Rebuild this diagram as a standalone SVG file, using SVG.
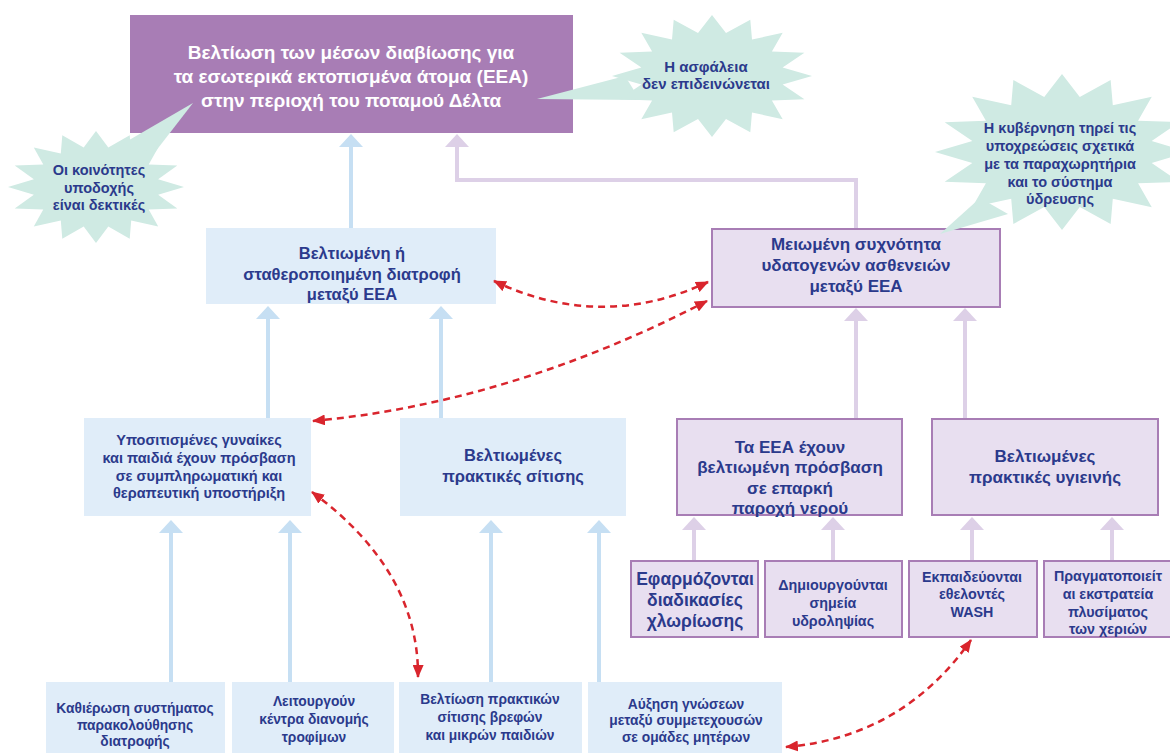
<svg xmlns="http://www.w3.org/2000/svg" width="1170" height="753" viewBox="0 0 1170 753">
<style>
text { font-family: "Liberation Sans", Arial, sans-serif; font-weight: bold; fill: #2b3a8c; text-anchor: middle; }
.top { fill: #ffffff; font-size: 19px; }
.bb { fill: #e0edf9; }
.pb { fill: #e8dff0; stroke: #a87db5; stroke-width: 2; }
.ba { stroke: #c6dff3; stroke-width: 4; fill: none; marker-end: url(#hb); }
.pa { stroke: #ddd0e7; stroke-width: 4; fill: none; marker-end: url(#hp); }
.rd { stroke: #d9252d; stroke-width: 2.5; fill: none; stroke-dasharray: 7 5; marker-start: url(#hr); marker-end: url(#hr); }
.star { fill: #cfeae3; }
.f138 { font-size: 13.8px; }
.f143 { font-size: 14.3px; }
.f145 { font-size: 14.5px; }
.f15 { font-size: 15px; }
.f165 { font-size: 16.5px; }
.f17 { font-size: 17px; }
.f175 { font-size: 17.5px; }
</style>
<defs>
<marker id="hb" markerUnits="userSpaceOnUse" viewBox="0 0 13 24" refX="0" refY="12" markerWidth="13" markerHeight="24" orient="auto"><path d="M0,0 L13,12 L0,24 z" fill="#c6dff3"/></marker>
<marker id="hp" markerUnits="userSpaceOnUse" viewBox="0 0 13 24" refX="0" refY="12" markerWidth="13" markerHeight="24" orient="auto"><path d="M0,0 L13,12 L0,24 z" fill="#ddd0e7"/></marker>
<marker id="hr" markerUnits="userSpaceOnUse" viewBox="0 0 13 11" refX="12" refY="5.5" markerWidth="13" markerHeight="11" orient="auto-start-reverse"><path d="M0,0 L13,5.5 L0,11 z" fill="#d9252d"/></marker>
<polygon id="star" points="1,0 0.706,0.14 0.924,0.383 0.599,0.4 0.707,0.707 0.4,0.599 0.383,0.924 0.14,0.706 0,1 -0.14,0.706 -0.383,0.924 -0.4,0.599 -0.707,0.707 -0.599,0.4 -0.924,0.383 -0.706,0.14 -1,0 -0.706,-0.14 -0.924,-0.383 -0.599,-0.4 -0.707,-0.707 -0.4,-0.599 -0.383,-0.924 -0.14,-0.706 0,-1 0.14,-0.706 0.383,-0.924 0.4,-0.599 0.707,-0.707 0.599,-0.4 0.924,-0.383 0.706,-0.14"/>
</defs>

<g id="connectors">
<path class="ba" d="M351,228 V147"/>
<path class="pa" d="M856,228 V180 H457 V147"/>
<path class="ba" d="M268,418 V319"/>
<path class="ba" d="M441,418 V319"/>
<path class="pa" d="M856,418 V321"/>
<path class="pa" d="M965,418 V321"/>
<path class="ba" d="M171,682 V533"/>
<path class="ba" d="M290,682 V533"/>
<path class="ba" d="M491,682 V533"/>
<path class="ba" d="M599,682 V533"/>
<path class="pa" d="M694,560 V530"/>
<path class="pa" d="M833,560 V530"/>
<path class="pa" d="M972,560 V530"/>
<path class="pa" d="M1112,560 V530"/>
</g>

<g id="n-goal">
<rect x="130" y="15" width="443" height="118" fill="#a87db5"/>
<text class="top" x="351" y="59">Βελτίωση των μέσων διαβίωσης για</text>
<text class="top" x="351" y="83">τα εσωτερικά εκτοπισμένα άτομα (ΕΕΑ)</text>
<text class="top" x="351" y="107">στην περιοχή του ποταμού Δέλτα</text>
</g>

<g id="n-nutrition">
<rect class="bb" x="206" y="228" width="290" height="76"/>
<text class="f165" x="352" y="259">Βελτιωμένη ή</text>
<text class="f165" x="352" y="280">σταθεροποιημένη διατροφή</text>
<text class="f165" x="352" y="300">μεταξύ ΕΕΑ</text>
</g>

<g id="n-disease">
<rect class="pb" x="712" y="229" width="288" height="78"/>
<text class="f17" x="856" y="250">Μειωμένη συχνότητα</text>
<text class="f17" x="856" y="271">υδατογενών ασθενειών</text>
<text class="f17" x="856" y="292">μεταξύ ΕΕΑ</text>
</g>

<g id="n-women">
<rect class="bb" x="84" y="418" width="227" height="98"/>
<text class="f145" x="199" y="445">Υποσιτισμένες γυναίκες</text>
<text class="f145" x="199" y="463">και παιδιά έχουν πρόσβαση</text>
<text class="f145" x="199" y="481">σε συμπληρωματική και</text>
<text class="f145" x="199" y="498">θεραπευτική υποστήριξη</text>
</g>

<g id="n-feeding">
<rect class="bb" x="400" y="418" width="226" height="98"/>
<text class="f165" x="513" y="461">Βελτιωμένες</text>
<text class="f165" x="513" y="482">πρακτικές σίτισης</text>
</g>

<g id="n-water">
<rect class="pb" x="677" y="419" width="225" height="96"/>
<text class="f17" x="790" y="453">Τα ΕΕΑ έχουν</text>
<text class="f17" x="790" y="473">βελτιωμένη πρόσβαση</text>
<text class="f17" x="790" y="494">σε επαρκή</text>
<text class="f17" x="790" y="514">παροχή νερού</text>
</g>

<g id="n-hygiene">
<rect class="pb" x="932" y="419" width="226" height="96"/>
<text class="f17" x="1045" y="462">Βελτιωμένες</text>
<text class="f17" x="1045" y="483">πρακτικές υγιεινής</text>
</g>

<g id="n-chlor">
<rect class="pb" x="631" y="561" width="127" height="76"/>
<text class="f175" x="695" y="585">Εφαρμόζονται</text>
<text class="f175" x="695" y="606">διαδικασίες</text>
<text class="f175" x="695" y="627">χλωρίωσης</text>
</g>

<g id="n-points">
<rect class="pb" x="765" y="561" width="137" height="76"/>
<text class="f143" x="833" y="590">Δημιουργούνται</text>
<text class="f143" x="833" y="608">σημεία</text>
<text class="f143" x="833" y="626">υδροληψίας</text>
</g>

<g id="n-volunteers">
<rect class="pb" x="909" y="561" width="128" height="76"/>
<text class="f143" x="972" y="582">Εκπαιδεύονται</text>
<text class="f143" x="972" y="599">εθελοντές</text>
<text class="f143" x="972" y="617">WASH</text>
</g>

<g id="n-handwash">
<rect class="pb" x="1044" y="561" width="130" height="76"/>
<text class="f143" x="1108" y="581">Πραγματοποιείτ</text>
<text class="f143" x="1108" y="599">αι εκστρατεία</text>
<text class="f143" x="1108" y="617">πλυσίματος</text>
<text class="f143" x="1108" y="634">των χεριών</text>
</g>

<g id="n-monitor">
<rect class="bb" x="46" y="682" width="179" height="80"/>
<text class="f138" x="135" y="713">Καθιέρωση συστήματος</text>
<text class="f138" x="135" y="730">παρακολούθησης</text>
<text class="f138" x="135" y="746">διατροφής</text>
</g>

<g id="n-distribution">
<rect class="bb" x="232" y="682" width="162" height="80"/>
<text class="f138" x="314" y="706">Λειτουργούν</text>
<text class="f138" x="314" y="724">κέντρα διανομής</text>
<text class="f138" x="314" y="742">τροφίμων</text>
</g>

<g id="n-infant">
<rect class="bb" x="399" y="682" width="183" height="80"/>
<text class="f138" x="490" y="704">Βελτίωση πρακτικών</text>
<text class="f138" x="490" y="722">σίτισης βρεφών</text>
<text class="f138" x="490" y="740">και μικρών παιδιών</text>
</g>

<g id="n-mothers">
<rect class="bb" x="588" y="682" width="194" height="80"/>
<text class="f138" x="686" y="709">Αύξηση γνώσεων</text>
<text class="f138" x="686" y="725">μεταξύ συμμετεχουσών</text>
<text class="f138" x="686" y="742">σε ομάδες μητέρων</text>
</g>

<g id="links">
<path class="rd" d="M494,281 Q601,332 708,282"/>
<path class="rd" d="M313,421 Q510,403 707,301"/>
<path class="rd" d="M312,492 Q419,571 418,677"/>
<path class="rd" d="M786,747 Q903,737 971,640"/>
</g>

<g id="b-host">
<polygon class="star" points="193,103 112,150 145,165"/>
<use href="#star" class="star" transform="translate(96,187) scale(88,56)"/>
<text class="f145" x="99" y="175">Οι κοινότητες</text>
<text class="f145" x="99" y="192.5">υποδοχής</text>
<text class="f145" x="99" y="210">είναι δεκτικές</text>
</g>

<g id="b-security">
<polygon class="star" points="537,99 625,76 640,100"/>
<use href="#star" class="star" transform="translate(712,76) scale(100,61)"/>
<text class="f15" x="706" y="72">Η ασφάλεια</text>
<text class="f15" x="706" y="89">δεν επιδεινώνεται</text>
</g>

<g id="b-gov">
<polygon class="star" points="940,234 980,198 1008,214"/>
<use href="#star" class="star" transform="translate(1062,152) scale(127,78)"/>
<text class="f145" x="1060" y="133">Η κυβέρνηση τηρεί τις</text>
<text class="f145" x="1060" y="151">υποχρεώσεις σχετικά</text>
<text class="f145" x="1060" y="169">με τα παραχωρητήρια</text>
<text class="f145" x="1060" y="187">και το σύστημα</text>
<text class="f145" x="1060" y="204">ύδρευσης</text>
</g>
</svg>
